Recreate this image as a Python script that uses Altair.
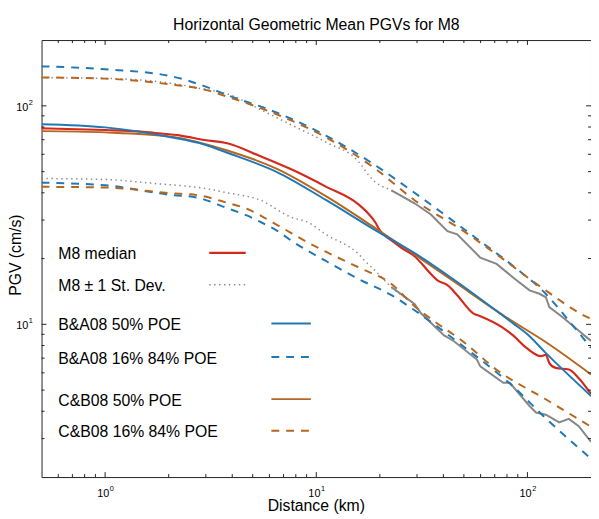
import altair as alt
import pandas as pd

# ---------------- data ----------------
median_x = [0.5, 1.0, 1.44, 1.72, 2.28, 2.95, 3.79, 5.41, 7.75, 11.1, 15.9, 17.7, 19.0, 20.0, 22.7, 25.5,
            29.2, 34.9, 37.5, 41.8, 46.5, 55.6, 59.8, 75.4, 85.5, 99.0, 116, 122, 127, 136, 157, 175, 200]
median_y = [78.9, 77.5, 76.4, 75.1, 73.1, 69.8, 67.4, 58.9, 50.8, 42.7, 35.3, 32.0, 29.4, 26.9, 24.2, 22.3,
            20.5, 17.0, 15.9, 15.1, 13.6, 11.2, 10.9, 9.74, 8.9, 7.8, 7.15, 7.26, 6.65, 6.32, 6.21, 5.67, 4.8]

sd_up_x = [0.5, 1.0, 2.05, 2.95, 3.79, 5.41, 7.75, 11.1, 15.9, 17.7, 19.0, 22.7, 29.2, 34.9, 41.8,
           46.5, 59.8, 71.4, 85.5, 102.3, 114, 122.3, 126.9, 146.4, 175.1, 200]
sd_up_y = [134.5, 133.5, 127.0, 119.0, 113.5, 96.4, 81.1, 68.2, 55.4, 48.2, 44.9, 41.0, 35.8, 31.8, 26.7,
           25.8, 20.2, 18.9, 16.4, 14.3, 13.8, 13.3, 12.0, 10.8, 9.35, 8.4]

sd_lo_x = [0.5, 1.0, 1.72, 2.95, 3.79, 5.41, 7.75, 8.94, 11.1, 15.9, 17.0, 19.0, 22.7, 29.2, 31.4,
           40.3, 44.9, 57.6, 59.8, 76.8, 82.5, 102.3, 109.8, 122.3, 141.3, 157, 175, 200]
sd_lo_y = [46.5, 46.0, 44.1, 41.9, 40.0, 37.1, 30.7, 29.6, 25.8, 20.9, 19.5, 17.6, 14.8, 12.4, 11.2,
           8.9, 8.37, 6.9, 6.42, 5.40, 5.40, 4.23, 3.95, 3.86, 3.56, 3.69, 3.42, 2.9]

ba50_x = [0.5, 1.0, 2.05, 2.95, 3.79, 6.48, 11.1, 19.0, 29.2, 44.9, 85.5, 100, 122, 200]
ba50_y = [82.4, 79.7, 71.8, 66.5, 61.0, 49.9, 37.1, 27.0, 21.2, 16.0, 10.1, 9.0, 7.4, 4.7]

ba84_x = [0.5, 1.0, 2.06, 2.95, 3.79, 6.48, 11.1, 19.0, 29.2, 59.8, 85.5, 122, 157, 200]
ba84_y = [151.6, 147.0, 136.6, 123.1, 112.0, 93.2, 73.1, 53.5, 40.0, 24.0, 18.5, 13.8, 10.4, 7.8]

ba16_x = [0.5, 1.0, 2.06, 2.74, 3.79, 4.69, 5.41, 6.48, 7.9, 11.1, 15.9, 22.7, 29.2, 49.9, 85.5, 122, 200]
ba16_y = [44.5, 43.3, 39.1, 38.0, 34.0, 31.5, 29.5, 26.9, 23.6, 19.5, 16.1, 13.6, 11.6, 7.9, 5.2, 3.72, 2.43]

cb50_x = [0.5, 1.0, 2.05, 3.79, 6.48, 11.1, 19.0, 29.2, 44.9, 79.0, 122, 200]
cb50_y = [76.6, 75.6, 72.3, 62.5, 51.6, 38.6, 27.6, 20.9, 15.7, 10.8, 8.3, 5.9]

cb84_x = [0.5, 1.0, 2.06, 2.95, 3.79, 6.48, 11.1, 19.0, 29.2, 49.9, 71.4, 122, 188, 200]
cb84_y = [134.9, 133.2, 125.1, 118.8, 110.1, 91.5, 71.8, 51.6, 37.0, 26.7, 20.9, 14.3, 10.9, 10.6]

cb16_x = [0.5, 1.0, 2.06, 2.74, 3.79, 4.69, 6.48, 9.27, 11.1, 15.9, 22.7, 29.2, 34.9, 49.9, 71.4, 122, 200]
cb16_y = [42.6, 42.3, 39.8, 39.0, 36.0, 33.8, 28.6, 23.5, 21.5, 18.2, 15.3, 12.1, 10.6, 8.3, 6.2, 4.54, 3.4]

x_tick_major = [1, 10, 100]
x_tick_minor = [0.6, 0.7, 0.8, 0.9, 2, 3, 4, 5, 6, 7, 8, 9, 20, 30, 40, 50, 60, 70, 80, 90]
y_tick_major = [10, 100]
y_tick_minor = [3, 4, 5, 6, 7, 8, 9, 20, 30, 40, 50, 60, 70, 80, 90]
x_label_vals = [1, 10, 100]
x_label_exp = ["0", "1", "2"]
y_label_vals = [10, 100]
y_label_exp = ["1", "2"]

legend_labels = ["M8 median", "M8 \u00b1 1 St. Dev.", "B&A08 50% POE", "B&A08 16% 84% POE",
                 "C&B08 50% POE", "C&B08 16% 84% POE"]

title_text = "Horizontal Geometric Mean PGVs for M8"
x_title = "Distance (km)"
y_title = "PGV (cm/s)"

# ---------------- styling ----------------
FONT = "Liberation Sans"
RED = "#d42a1e"
BLUE = "#2278b5"
BROWN = "#b6661f"
GRAY = "#878787"
AXC = "#222222"
DASH = [8, 7]
DOT = [1.4, 3.6]
W, H = 557, 443
GRAY_SPLIT = 28

xs = alt.Scale(type="log", domain=[0.5, 200], nice=False)
ys = alt.Scale(type="log", domain=[2, 200], nice=False)


def frame(xv, yv, name):
    return pd.DataFrame({"dist": xv, "pgv": yv, "series": name})


def line_layer(df, color, width=2.0, dash=None, interp="monotone"):
    kw = dict(color=color, strokeWidth=width, clip=True, strokeCap="butt", interpolate=interp)
    if dash:
        kw["strokeDash"] = dash
    return alt.Chart(df).mark_line(**kw).encode(
        x=alt.X("dist:Q", scale=xs, axis=None),
        y=alt.Y("pgv:Q", scale=ys, axis=None),
        detail="series:N",
    )


def split(xv, yv, t):
    i = next(k for k, v in enumerate(xv) if v > t)
    return (xv[: i + 1], yv[: i + 1]), (xv[i - 1:], yv[i - 1:])


(up_d, up_s) = split(sd_up_x, sd_up_y, GRAY_SPLIT)
(lo_d, lo_s) = split(sd_lo_x, sd_lo_y, GRAY_SPLIT)

gray_dot = pd.concat([frame(*up_d, "up"), frame(*lo_d, "lo")])
gray_solid = pd.concat([frame(*up_s, "up"), frame(*lo_s, "lo")])

layers = [
    line_layer(gray_dot, GRAY, 1.5, DOT),
    line_layer(gray_solid, GRAY, 2.0, None, "linear"),
    line_layer(pd.concat([frame(ba84_x, ba84_y, "u"), frame(ba16_x, ba16_y, "l")]), BLUE, 2.0, DASH),
    line_layer(pd.concat([frame(cb84_x, cb84_y, "u"), frame(cb16_x, cb16_y, "l")]), BROWN, 2.0, DASH),
    line_layer(frame(median_x, median_y, "m"), RED, 2.2),
    line_layer(frame(cb50_x, cb50_y, "c"), BROWN, 2.0),
    line_layer(frame(ba50_x, ba50_y, "b"), BLUE, 2.0),
]


# frame ticks (pointing inward)
def xticks(vals, ln):
    d = pd.DataFrame({"v": vals})
    base = alt.Chart(d).mark_rule(color=AXC, strokeWidth=1)
    enc = dict(x=alt.X("v:Q", scale=xs, axis=None))
    return [base.encode(**enc, y=alt.value(H), y2=alt.value(H - ln)),
            base.encode(**enc, y=alt.value(0), y2=alt.value(ln))]


def yticks(vals, ln):
    d = pd.DataFrame({"v": vals})
    base = alt.Chart(d).mark_rule(color=AXC, strokeWidth=1)
    enc = dict(y=alt.Y("v:Q", scale=ys, axis=None))
    return [base.encode(**enc, x=alt.value(0), x2=alt.value(ln)),
            base.encode(**enc, x=alt.value(W), x2=alt.value(W - ln))]


layers += xticks(x_tick_major, 5) + xticks(x_tick_minor, 3)
layers += yticks(y_tick_major, 5) + yticks(y_tick_minor, 3)

# tick labels 10^n
xl = pd.DataFrame({"v": x_label_vals, "e": x_label_exp})
layers.append(alt.Chart(xl).mark_text(font=FONT, fontSize=11, align="right", baseline="alphabetic",
                                      dx=4.2, color="#000").encode(
    x=alt.X("v:Q", scale=xs, axis=None), y=alt.value(H + 20.5), text=alt.value("10")))
layers.append(alt.Chart(xl).mark_text(font=FONT, fontSize=7.5, align="left", baseline="alphabetic",
                                      dx=4.8, color="#000").encode(
    x=alt.X("v:Q", scale=xs, axis=None), y=alt.value(H + 14.5), text="e:N"))

yl = pd.DataFrame({"v": y_label_vals, "e": y_label_exp})
layers.append(alt.Chart(yl).mark_text(font=FONT, fontSize=11, align="right", baseline="alphabetic",
                                      dy=4.8, color="#000").encode(
    y=alt.Y("v:Q", scale=ys, axis=None), x=alt.value(-13.5), text=alt.value("10")))
layers.append(alt.Chart(yl).mark_text(font=FONT, fontSize=7.5, align="left", baseline="alphabetic",
                                      dy=-1, color="#000").encode(
    y=alt.Y("v:Q", scale=ys, axis=None), x=alt.value(-13), text="e:N"))

one = pd.DataFrame({"a": [0]})
# chart title and axis titles
layers.append(alt.Chart(one).mark_text(font=FONT, fontSize=16, align="center", baseline="alphabetic",
                                       color="#000").encode(
    x=alt.value(W / 2), y=alt.value(-10.5), text=alt.value(title_text)))
layers.append(alt.Chart(one).mark_text(font=FONT, fontSize=16, align="center", baseline="alphabetic",
                                       color="#000").encode(
    x=alt.value(W / 2), y=alt.value(H + 34.5), text=alt.value(x_title)))
layers.append(alt.Chart(one).mark_text(font=FONT, fontSize=16, align="center", baseline="middle",
                                       angle=270, color="#000").encode(
    x=alt.value(-26), y=alt.value(218), text=alt.value(y_title)))

# legend
leg_text_y = [221.8, 254.7, 293.7, 328.0, 371.3, 402.0]
leg_line = [
    (170, 207, 215.7, RED, 2.2, None),
    (170, 207, 248.0, GRAY, 1.5, DOT),
    (233, 273, 287.3, BLUE, 2.0, None),
    (233, 273, 321.3, BLUE, 2.0, DASH),
    (233, 273, 364.0, BROWN, 2.0, None),
    (233, 273, 396.0, BROWN, 2.0, DASH),
]
for lab, ty, (x1, x2, ly, col, sw, dash) in zip(legend_labels, leg_text_y, leg_line):
    layers.append(alt.Chart(one).mark_text(font=FONT, fontSize=16, align="left", baseline="alphabetic",
                                           color="#000").encode(
        x=alt.value(17), y=alt.value(ty), text=alt.value(lab)))
    kw = dict(color=col, strokeWidth=sw, strokeCap="butt")
    if dash:
        kw["strokeDash"] = dash
    layers.append(alt.Chart(one).mark_rule(**kw).encode(
        x=alt.value(x1), x2=alt.value(x2), y=alt.value(ly)))

chart = alt.layer(*layers).properties(
    width=W,
    height=H,
    autosize=alt.AutoSizeParams(type="none"),
    padding={"left": 34, "top": 29, "right": 0, "bottom": 38},
).configure_view(stroke=AXC, strokeWidth=1)

chart.save("out.html", embed_options={"renderer": "svg", "actions": False})
